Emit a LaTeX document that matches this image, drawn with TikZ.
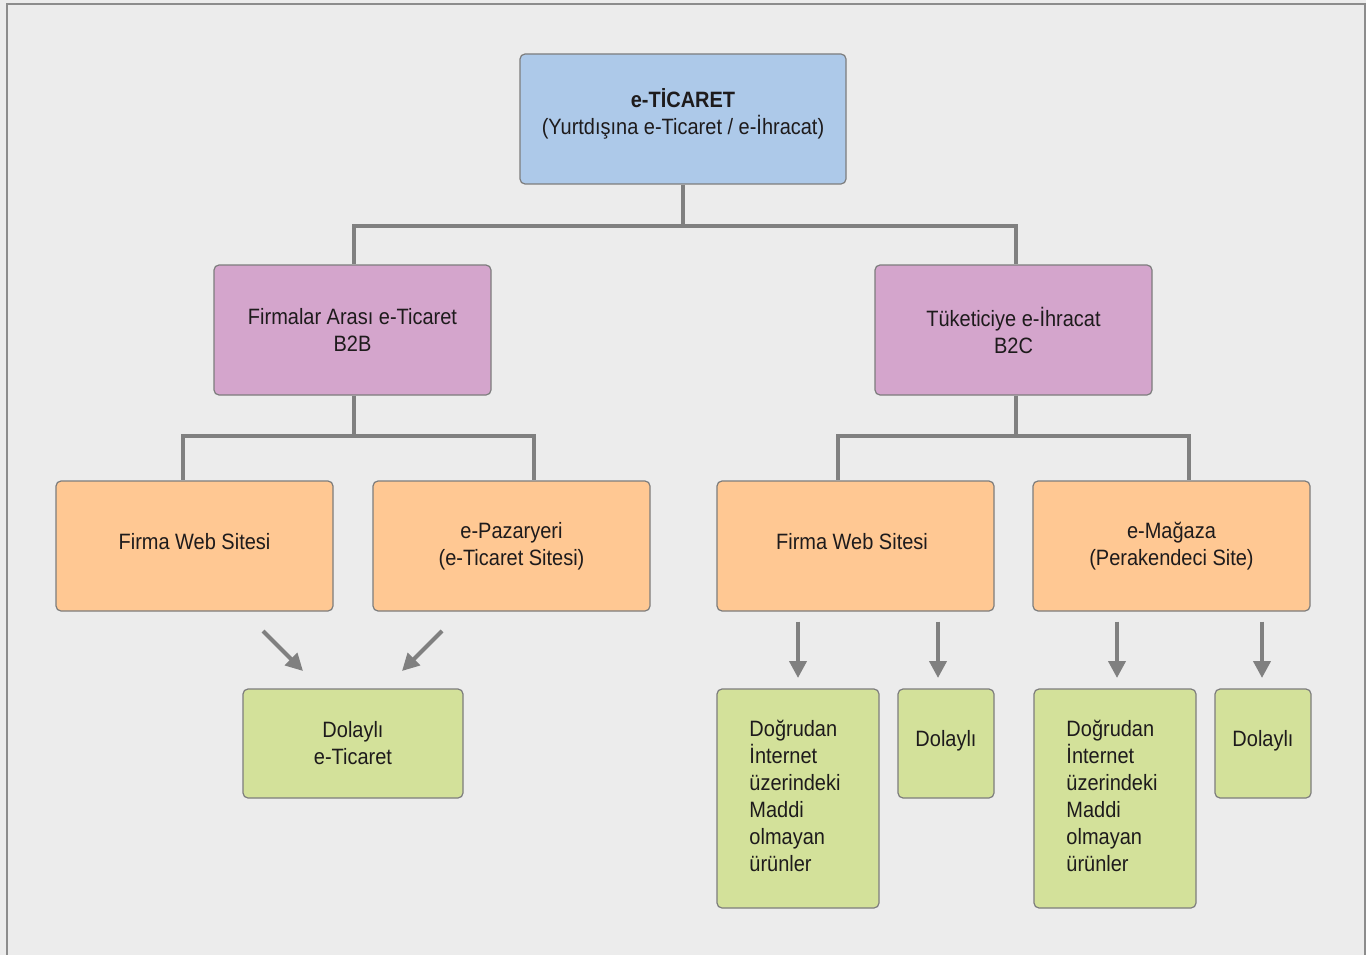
\documentclass[tikz,border=0pt]{standalone}
\usepackage{fontspec}
\setmainfont{Liberation Sans}[FakeStretch=0.9]
\usetikzlibrary{arrows.meta}
\definecolor{bgc}{RGB}{236,236,236}
\definecolor{framec}{RGB}{140,140,140}
\definecolor{linec}{RGB}{128,128,128}
\definecolor{edgec}{RGB}{125,125,125}
\definecolor{txtc}{RGB}{30,27,28}
\definecolor{bluec}{RGB}{173,201,233}
\definecolor{purplec}{RGB}{212,165,204}
\definecolor{orangec}{RGB}{255,200,147}
\definecolor{greenc}{RGB}{211,225,154}
\tikzset{
  lbl/.style={text=txtc, font=\fontsize{22.2}{27}\selectfont},
  box/.style={lbl, draw=edgec, line width=1.2pt, rounded corners=5pt, inner sep=0pt,
    align=center},
  topbox/.style={box, fill=bluec, minimum width=326pt, minimum height=130pt},
  midbox/.style={box, fill=purplec, minimum width=277pt, minimum height=130pt},
  webbox/.style={box, fill=orangec, minimum width=277pt, minimum height=130pt},
  greenbox/.style={box, fill=greenc},
  conn/.style={draw=linec, line width=4pt},
  arr/.style={draw=linec, line width=4pt, -{Triangle[length=17pt,width=17pt]}}
}
\begin{document}
\begin{tikzpicture}[x=1pt,y=-1pt]
% background and frame
\fill[bgc] (0,0) rectangle (1366,955);
\useasboundingbox (0,0) rectangle (1366,955);
\draw[framec, line width=1.5pt] (7,955) -- (7,4) -- (1365,4) -- (1365,955);

% boxes
\node[topbox] (top) at (683,119) {};
\node[lbl, align=center] (toptext) at (683,114)
  {\textbf{e-TİCARET}\\(Yurtdışına e-Ticaret / e-İhracat)};

\node[midbox] (b2b) at (352.5,330) {Firmalar Arası e-Ticaret\\B2B};
\node[midbox] (b2c) at (1013.5,330) {Tüketiciye e-İhracat\\B2C};

\node[webbox] (fw1) at (194.5,546) {};
\node[lbl] (fw1t) at (194.5,542) {Firma Web Sitesi};
\node[webbox] (pz)  at (511.5,546) {e-Pazaryeri\\(e-Ticaret Sitesi)};
\node[webbox] (fw2) at (855.5,546) {};
\node[lbl] (fw2t) at (852,542) {Firma Web Sitesi};
\node[webbox] (mg)  at (1171.5,546) {e-Mağaza\\(Perakendeci Site)};

\node[greenbox, minimum width=220pt, minimum height=109pt] (dol1) at (353,743.5) {Dolaylı\\e-Ticaret};
\node[greenbox, minimum width=162pt, minimum height=219pt] (dog1) at (798,798.5) {};
\node[lbl, align=left] (dog1t) at (795,795.5)
  {Doğrudan\\İnternet\\üzerindeki\\Maddi\\olmayan\\ürünler};
\node[greenbox, minimum width=96pt, minimum height=109pt] (dol2) at (946,743.5) {};
\node[lbl] (dol2t) at (946,741) {Dolaylı};
\node[greenbox, minimum width=162pt, minimum height=219pt] (dog2) at (1115,798.5) {};
\node[lbl, align=left] (dog2t) at (1112,795.5)
  {Doğrudan\\İnternet\\üzerindeki\\Maddi\\olmayan\\ürünler};
\node[greenbox, minimum width=96pt, minimum height=109pt] (dol3) at (1263,743.5) {};
\node[lbl] (dol3t) at (1263,741) {Dolaylı};

% tree connectors
\draw[conn] (top.south) -- (top.south |- 0,226) -| ([xshift=1.5pt]b2b.north);
\draw[conn] (top.south |- 0,226) -| ([xshift=2.5pt]b2c.north);
\draw[conn] ([xshift=1.5pt]b2b.south) -- ([xshift=1.5pt]b2b.south |- 0,436) -| ([xshift=-11.5pt]fw1.north);
\draw[conn] ([xshift=1.5pt]b2b.south |- 0,436) -| ([xshift=22.5pt]pz.north);
\draw[conn] ([xshift=2.5pt]b2c.south) -- ([xshift=2.5pt]b2c.south |- 0,436) -| ([xshift=-17.5pt]fw2.north);
\draw[conn] ([xshift=2.5pt]b2c.south |- 0,436) -| ([xshift=17.5pt]mg.north);

% arrows
\coordinate (a1s) at (263,631); \coordinate (a1e) at (303,671);
\coordinate (a2s) at (442,631); \coordinate (a2e) at (402,671);
\draw[arr] (a1s) -- (a1e);
\draw[arr] (a2s) -- (a2e);
\draw[arr] (fw2.south -| 798,0) ++(0,10) -- (798,678);
\draw[arr] (fw2.south -| 938,0) ++(0,10) -- (938,678);
\draw[arr] (mg.south -| 1117,0) ++(0,10) -- (1117,678);
\draw[arr] (mg.south -| 1262,0) ++(0,10) -- (1262,678);
\end{tikzpicture}
\end{document}
